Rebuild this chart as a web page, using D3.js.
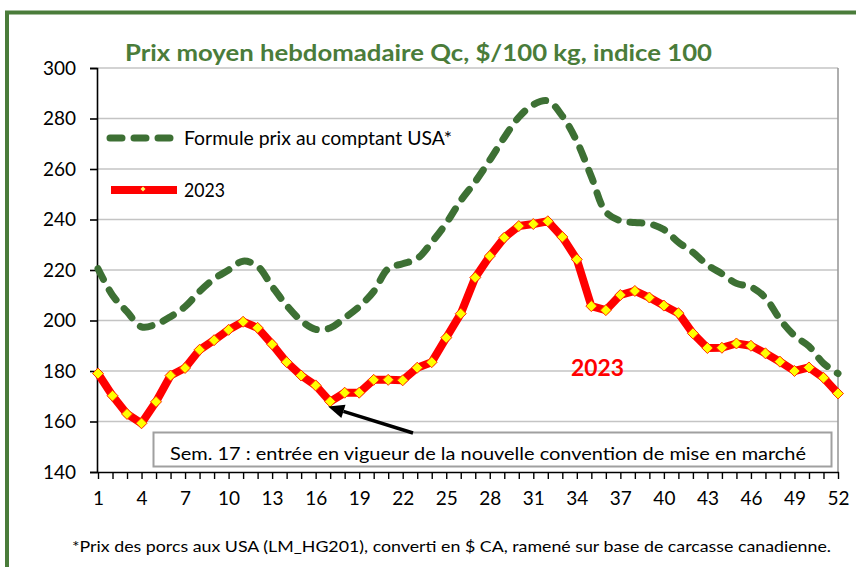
<!DOCTYPE html>
<html><head><meta charset="utf-8">
<script src="https://cdn.jsdelivr.net/npm/d3@7"></script>
<style>
html,body{margin:0;padding:0;background:#fff;}
svg{display:block;font-family:Lato,'Open Sans',sans-serif;}
</style></head>
<body>
<svg id="c" width="856" height="567"></svg>
<script>
const weeks = d3.range(1, 53);
const tickLabels = [1,4,7,10,13,16,19,22,25,28,31,34,37,40,43,46,49,52];
const yTicks = [140,160,180,200,220,240,260,280,300];
const seriesNames = ["Formule prix au comptant USA*", "2023"];
const usa = [220.5,210,203.5,197.5,198.5,201.5,205.5,211.5,216.5,220,223.5,221.5,213.5,206,200,196.5,197,201,205.5,211.5,220.5,222.5,224.5,231,238.5,247.5,255,263.5,272.5,280.5,285.5,287,281,271,257,243,239.5,238.8,238.3,236,231,227,222,218.5,214.7,213.3,209,200.5,194,189.8,183,179];
const y2023 = [179.0,170.2,163.0,159.3,167.8,178.2,181.2,188.4,192.2,196.3,199.5,197.1,190.6,183.5,178.2,174.3,167.9,171.4,171.4,176.5,176.5,176.3,181.3,183.5,193.2,202.7,217.0,225.5,232.8,237.4,238.2,239.3,233.1,224.2,205.7,204.1,210.1,211.7,209.1,205.9,202.9,194.9,189.1,189.2,190.9,190.0,187.0,183.7,180.0,181.4,177.3,171.1];
const title = "Prix moyen hebdomadaire Qc, $/100 kg, indice 100";
const noteText = "Sem. 17 : entrée en vigueur de la nouvelle convention de mise en marché";
const footText = "*Prix des porcs aux USA (LM_HG201), converti  en $ CA, ramené sur base de carcasse canadienne.";
const noteWeek = 17;

const svg = d3.select("#c");
const GREEN = "#3d7034", FRAME = "#4a7c3a", RED = "#ff0000";
const L = 97, R = 838, T = 68, B = 472;

// outer frame
svg.append("path").attr("d", `M7,567 V12.5 H856`).attr("fill","none").attr("stroke",FRAME).attr("stroke-width",4);

const x = d3.scalePoint().domain(weeks).range([98, 838]);
const y = d3.scaleLinear().domain([140, 300]).range([B, T]);

// gridlines
svg.append("g").selectAll("line").data(yTicks.filter(d=>d>140)).join("line")
  .attr("x1", L).attr("x2", R).attr("y1", d=>y(d)).attr("y2", d=>y(d))
  .attr("stroke", "#c4c4c4").attr("stroke-width", 1.6);
// plot border right
svg.append("line").attr("x1",R).attr("x2",R).attr("y1",T).attr("y2",B).attr("stroke","#9a9a9a").attr("stroke-width",1.6);

// y axis
const gy = svg.append("g").attr("transform",`translate(${L},0)`)
  .call(d3.axisLeft(y).tickValues(yTicks).tickSize(7).tickPadding(14).tickFormat(d3.format("d")));
gy.select(".domain").attr("stroke","#000").attr("stroke-width",1.6);
gy.selectAll(".tick line").attr("stroke","#000").attr("stroke-width",1.6);
gy.selectAll("text").attr("font-size",19).attr("fill","#000").attr("font-family","Lato,sans-serif");

// x axis
const gx = svg.append("g").attr("transform",`translate(0,${B})`)
  .call(d3.axisBottom(x).tickSize(7).tickPadding(13).tickFormat(d => tickLabels.includes(d) ? d : ""));
gx.select(".domain").attr("d", `M${L},0.5H${R+1}`).attr("stroke","#000").attr("stroke-width",1.6);
gx.selectAll(".tick line").attr("stroke","#000").attr("stroke-width",1.4);
gx.selectAll("text").attr("font-size",19).attr("fill","#000").attr("font-family","Lato,sans-serif");

// green dashed smooth line
const lineG = d3.line().x((d,i)=>x(weeks[i])).y(d=>y(d)).curve(d3.curveCatmullRom.alpha(0.5));
svg.append("path").datum(usa).attr("d", lineG).attr("fill","none")
  .attr("stroke",GREEN).attr("stroke-width",7).attr("stroke-linecap","round").attr("stroke-dasharray","12,12");

// red line
const lineR = d3.line().x((d,i)=>x(weeks[i])).y(d=>y(d));
svg.append("path").datum(y2023).attr("d", lineR).attr("fill","none")
  .attr("stroke",RED).attr("stroke-width",8).attr("stroke-linejoin","round");
const diamond = s => `M0,${-s}L${s},0L0,${s}L${-s},0Z`;
svg.append("g").selectAll("path").data(y2023).join("path")
  .attr("transform",(d,i)=>`translate(${x(weeks[i])},${y(d)})`)
  .attr("d", diamond(5.5)).attr("fill","#ffff00").attr("stroke","#ff3000").attr("stroke-width",1);

// title
svg.append("text").attr("x",125).attr("y",61).attr("font-size",23).attr("font-weight","bold")
  .attr("fill",FRAME).attr("textLength",587).attr("lengthAdjust","spacingAndGlyphs").text(title);

// legend
svg.append("line").attr("x1",110).attr("x2",170).attr("y1",138).attr("y2",138)
  .attr("stroke",GREEN).attr("stroke-width",7).attr("stroke-linecap","round").attr("stroke-dasharray","12,12");
svg.append("text").attr("x",184).attr("y",145).attr("font-size",19).attr("fill","#000")
  .attr("textLength",268).attr("lengthAdjust","spacingAndGlyphs").text(seriesNames[0]);
svg.append("line").attr("x1",111).attr("x2",177).attr("y1",190).attr("y2",190)
  .attr("stroke",RED).attr("stroke-width",8);
svg.append("path").attr("transform","translate(143,189)").attr("d",diamond(2.5)).attr("fill","#ffff66");
svg.append("text").attr("x",184).attr("y",197).attr("font-size",19).attr("fill","#000")
  .attr("textLength",41).attr("lengthAdjust","spacingAndGlyphs").text(seriesNames[1]);

// 2023 label
svg.append("text").attr("x",571).attr("y",376).attr("font-size",22).attr("font-weight","bold")
  .attr("fill",RED).attr("textLength",53).attr("lengthAdjust","spacingAndGlyphs").text("2023");

// annotation box
svg.append("rect").attr("x",153.5).attr("y",432.5).attr("width",678).attr("height",34)
  .attr("fill","#fff").attr("stroke","#a0a0a0").attr("stroke-width",2);
svg.append("text").attr("x",170).attr("y",460).attr("font-size",18).attr("fill","#000")
  .attr("textLength",636).attr("lengthAdjust","spacingAndGlyphs").text(noteText);

// arrow
const ax = x(noteWeek), ay = y(y2023[noteWeek-1]);
const tx = 413, ty = 433;
const hx = ax - 2, hy = ay + 5;
const ang = Math.atan2(hy - ty, hx - tx);
const hl = 16, hw = 7;
const bx = hx - hl*Math.cos(ang), by = hy - hl*Math.sin(ang);
svg.append("line").attr("x1",tx).attr("y1",ty).attr("x2",bx).attr("y2",by).attr("stroke","#000").attr("stroke-width",3.5);
svg.append("path").attr("d",`M${hx},${hy}L${bx + hw*Math.sin(ang)},${by - hw*Math.cos(ang)}L${bx - hw*Math.sin(ang)},${by + hw*Math.cos(ang)}Z`).attr("fill","#000");

// footnote
svg.append("text").attr("x",72).attr("y",552).attr("font-size",16).attr("fill","#000")
  .attr("textLength",759).attr("lengthAdjust","spacingAndGlyphs").text(footText);
</script>
</body></html>
